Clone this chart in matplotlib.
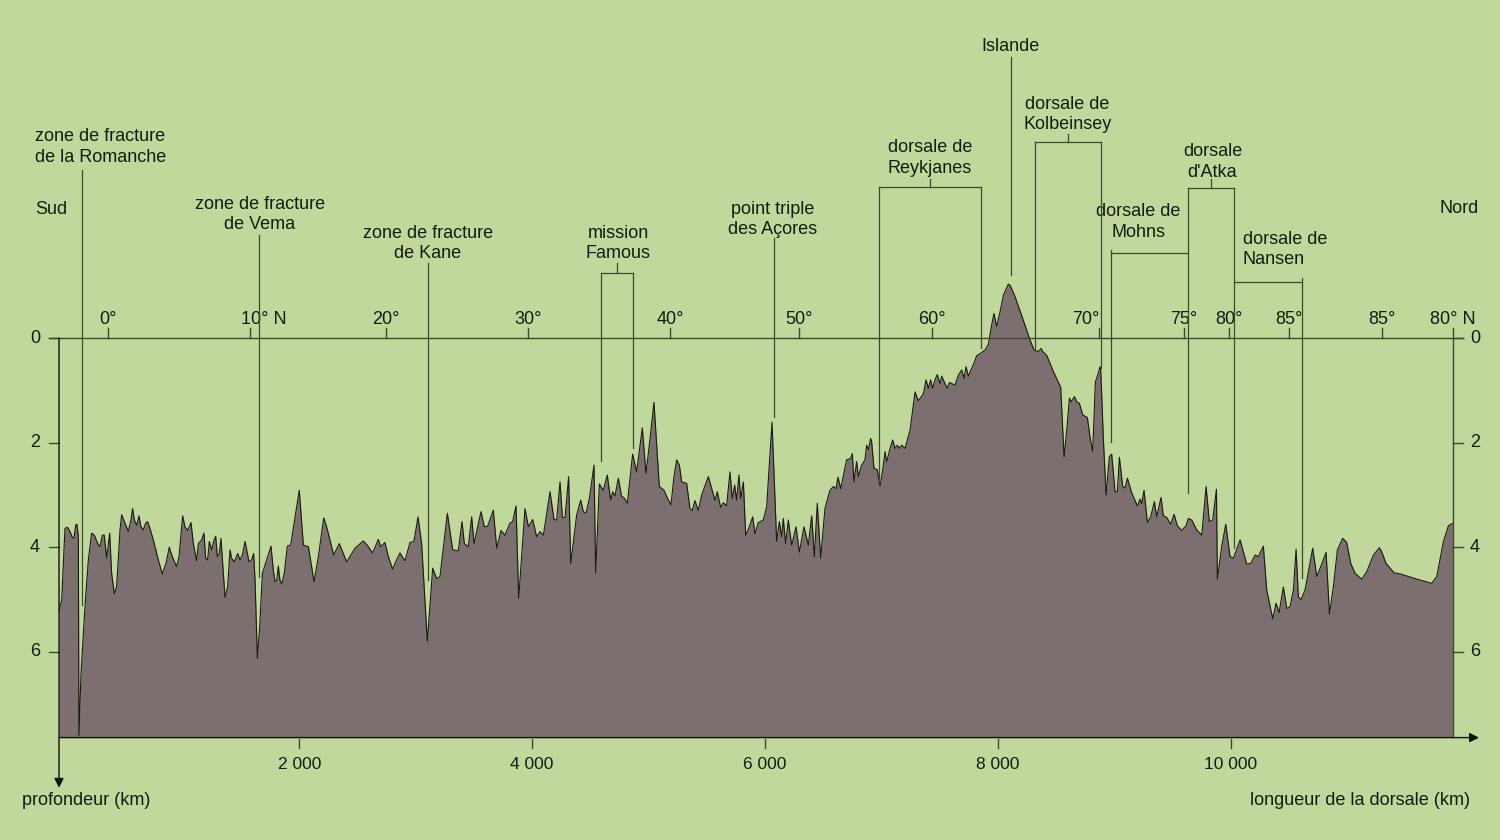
import matplotlib
matplotlib.use('Agg')
import matplotlib.pyplot as plt
import numpy as np

## Profile of the Atlantic ridge: distance along the ridge (km) and depth (km, <0 = above sea level)
dist_km = [-64, -41, -13, 10, 30, 50, 64, 79, 90, 102, 107, 125, 159, 188, 216, 239, 268, 288, 308, 325,
           345, 354, 371, 388, 411, 431, 460, 474, 503, 531, 554, 568, 583, 603, 623, 640, 660, 680, 697, 717,
           746, 789, 823, 855, 883, 909, 946, 967, 998, 1018, 1041, 1070, 1090, 1118, 1133, 1161, 1181, 1196,
           1213, 1227, 1247, 1264, 1282, 1296, 1313, 1327, 1339, 1362, 1385, 1405, 1419, 1442, 1471, 1491,
           1511, 1534, 1548, 1568, 1591, 1608, 1620, 1640, 1660, 1683, 1706, 1734, 1757, 1777, 1791, 1806,
           1820, 1834, 1849, 1871, 1897, 1926, 2000, 2035, 2078, 2127, 2164, 2210, 2235, 2278,
           2295, 2344, 2407, 2478, 2550, 2584, 2630, 2679, 2699, 2736, 2765, 2802, 2828, 2865, 2908, 2951,
           2985, 3020, 3051, 3100, 3146, 3180, 3209, 3272, 3318, 3366, 3398, 3418, 3452, 3481, 3501, 3561,
           3590, 3618, 3667, 3696, 3733, 3767, 3810, 3833, 3862, 3885, 3939, 3968, 4005, 4039, 4068, 4097,
           4154, 4188, 4211, 4240, 4260, 4283, 4314, 4332, 4383, 4418, 4440, 4463, 4492, 4532, 4546, 4578,
           4612, 4646, 4675, 4692, 4712, 4741, 4769, 4789, 4818, 4864, 4898, 4947, 4978, 5007, 5047, 5093,
           5133, 5156, 5193, 5219, 5242, 5265, 5285, 5328, 5356, 5376, 5399, 5428, 5457, 5514, 5571, 5591,
           5620, 5643, 5671, 5700, 5720, 5740, 5757, 5777, 5792, 5815, 5835, 5866, 5895, 5915, 5943, 5986,
           6015, 6061, 6101, 6124, 6144, 6158, 6178, 6201, 6230, 6267, 6296, 6336, 6373, 6402, 6425, 6450,
           6479, 6516, 6559, 6588, 6611, 6628, 6651, 6702, 6737, 6751, 6765, 6788, 6803, 6831, 6860, 6874,
           6889, 6909, 6917, 6937, 6966, 6989, 7012, 7032, 7046, 7075, 7098, 7118, 7138, 7155, 7175, 7204,
           7247, 7290, 7318, 7361, 7384, 7404, 7424, 7441, 7461, 7481, 7504, 7519, 7547, 7567, 7585, 7633,
           7662, 7691, 7710, 7728, 7748, 7776, 7796, 7819, 7854, 7891, 7920, 7948, 7968, 7991, 8020, 8049,
           8091, 8106, 8149, 8220, 8278, 8312, 8349, 8372, 8387, 8421, 8478, 8541, 8570, 8593, 8616, 8630,
           8659, 8679, 8702, 8730, 8770, 8793, 8816, 8839, 8856, 8879, 8885, 8908, 8931, 8959, 8979, 9008,
           9028, 9045, 9074, 9094, 9114, 9151, 9200, 9223, 9237, 9257, 9286, 9314, 9346, 9366, 9403, 9423,
           9452, 9486, 9515, 9543, 9581, 9618, 9638, 9667, 9710, 9753, 9790, 9818, 9847, 9879, 9887, 9924,
           9959, 9996, 10025, 10082, 10139, 10174, 10211, 10239, 10282, 10311, 10363, 10391, 10417, 10454,
           10483, 10511, 10540, 10563, 10583, 10606, 10640, 10706, 10741, 10775, 10821, 10850, 10884, 10918,
           10964, 10998, 11033, 11070, 11127, 11170, 11227, 11279, 11299, 11336, 11405, 11457, 11600, 11729,
           11772, 11829, 11872, 11911]
depth_km = [5.20, 5.01, 3.64, 3.62, 3.70, 3.81, 3.83, 3.58, 3.56, 3.80, 7.60, 6.41, 5.14, 4.24, 3.73, 3.77, 3.93, 3.99, 3.77, 3.77,
            4.21, 4.05, 3.73, 4.50, 4.89, 4.75, 3.67, 3.38, 3.54, 3.70, 3.48, 3.26, 3.48, 3.58, 3.40, 3.61, 3.67, 3.54, 3.51, 3.64,
            3.86, 4.24, 4.51, 4.31, 4.00, 4.18, 4.37, 4.18, 3.40, 3.61, 3.68, 3.53, 3.93, 4.26, 3.93, 3.86, 3.73, 4.21,
            4.24, 3.89, 4.05, 3.89, 3.79, 4.18, 4.12, 3.83, 4.21, 4.96, 4.75, 4.05, 4.21, 4.28, 4.12, 4.24,
            4.15, 3.89, 4.05, 4.28, 4.24, 4.12, 4.63, 6.12, 5.52, 4.50, 4.34, 4.15, 3.98, 4.44, 4.66, 4.63,
            4.36, 4.63, 4.70, 4.50, 3.98, 3.96, 2.91, 3.96, 3.99, 4.66, 4.18, 3.44, 3.61, 3.99,
            4.15, 3.93, 4.28, 4.02, 3.88, 3.96, 4.11, 3.85, 3.99, 3.91, 4.18, 4.42, 4.28, 4.11, 4.26, 3.91,
            3.89, 3.42, 3.93, 5.80, 4.40, 4.60, 4.56, 3.35, 4.05, 4.07, 3.51, 3.93, 3.99, 3.42, 3.93, 3.32,
            3.61, 3.60, 3.29, 4.02, 3.68, 3.77, 3.54, 3.51, 3.21, 4.98, 3.26, 3.61, 3.47, 3.80, 3.70, 3.77,
            2.94, 3.47, 3.48, 2.75, 3.43, 3.43, 2.65, 4.31, 3.38, 3.10, 3.32, 3.35, 3.07, 2.43, 4.49, 2.79,
            2.91, 2.62, 3.10, 2.94, 3.02, 2.68, 3.03, 3.05, 3.16, 2.22, 2.56, 1.72, 2.59, 2.05, 1.23, 2.84,
            2.91, 3.03, 3.19, 2.65, 2.33, 2.43, 2.75, 2.78, 3.26, 3.30, 3.11, 3.30, 3.00, 2.65, 3.10, 2.94,
            3.24, 3.15, 3.21, 2.56, 3.07, 2.81, 3.10, 2.62, 3.07, 2.75, 3.77, 3.61, 3.42, 3.74, 3.53, 3.48,
            3.23, 1.61, 3.89, 3.51, 3.80, 3.45, 3.93, 3.48, 3.96, 3.61, 4.09, 3.61, 3.96, 3.40, 4.18, 3.16,
            4.21, 3.26, 2.91, 2.84, 2.88, 2.66, 2.88, 2.33, 2.30, 2.21, 2.75, 2.36, 2.65, 2.43, 2.33, 2.05,
            2.13, 1.92, 1.98, 2.49, 2.52, 2.83, 2.52, 2.17, 2.37, 2.11, 1.95, 2.11, 2.05, 2.11, 2.05, 2.11,
            1.76, 1.03, 1.20, 1.07, 0.80, 0.96, 0.80, 0.96, 0.80, 0.70, 0.87, 0.73, 0.87, 0.96, 0.85, 0.90,
            0.71, 0.61, 0.77, 0.55, 0.73, 0.58, 0.48, 0.34, 0.29, 0.23, 0.12, -0.25, -0.47, -0.22, -0.50, -0.82,
            -1.03, -1.01, -0.79, -0.34, 0.04, 0.23, 0.26, 0.20, 0.26, 0.33, 0.64, 0.94, 2.27, 1.76, 1.15, 1.22,
            1.12, 1.22, 1.25, 1.47, 1.52, 1.89, 2.17, 0.84, 0.73, 0.55, 0.61, 1.95, 3.00, 2.27, 2.22, 2.94,
            2.94, 2.28, 2.84, 2.87, 2.68, 2.96, 3.21, 3.08, 3.17, 2.91, 3.53, 3.42, 3.13, 3.42, 3.05, 3.40,
            3.43, 3.56, 3.37, 3.59, 3.68, 3.59, 3.45, 3.48, 3.67, 3.77, 2.84, 3.51, 3.48, 2.89, 4.61, 3.99,
            3.56, 4.18, 4.21, 3.86, 4.32, 4.31, 4.15, 4.18, 3.98, 4.82, 5.37, 5.07, 5.25, 4.76,
            5.17, 5.14, 4.82, 4.04, 4.95, 5.00, 4.82, 4.02, 4.56, 4.37, 4.10, 5.28, 4.75, 4.05,
            3.83, 3.91, 4.31, 4.50, 4.61, 4.47, 4.15, 4.01, 4.09, 4.31, 4.49, 4.51, 4.61, 4.69,
            4.56, 3.89, 3.59, 3.54]

## latitude marks along the ridge (km) and their labels
lat_km = [359, 1579, 2742, 3965, 5185, 6293, 7433, 8870, 9598, 9983, 10506, 11305, 11911]
lat_labels = ['0°', '10° N', '20°', '30°', '40°', '50°', '60°', '70°', '75°', '80°', '85°', '85°', '80° N']

km_ticks = [2000, 4000, 6000, 8000, 10000]
depth_ticks = [0, 2, 4, 6]

BG = '#c0d89b'
FILL = '#7b6f70'
INK = '#151c0e'
LINE = '#3a4a2a'
FS = 13
LS = 1.27
plt.rcParams['font.family'] = ['Liberation Sans', 'DejaVu Sans']

fig = plt.figure(figsize=(15, 8.4), dpi=100)
fig.patch.set_facecolor(BG)
ax = fig.add_axes([0, 0, 1, 1])
ax.set_facecolor(BG)
ax.set_xlim(-571, 12315)
ax.set_ylim(9.598, -6.463)
ax.axis('off')

x0, x1, base = -64, 11911, 7.63

# profile
ax.fill_between(dist_km, depth_km, base, color=FILL, lw=0, zorder=2)
ax.plot(dist_km, depth_km, color='#1a1a12', lw=0.8, zorder=3)

# axes frame
ax.plot([-150, x1 + 86], [0, 0], color=LINE, lw=1.0, zorder=4)
ax.plot([x1, x1], [0, base], color=LINE, lw=1.0, zorder=4)
ax.annotate('', xy=(x0, 8.6), xytext=(x0, 0), zorder=4,
            arrowprops=dict(arrowstyle='-|>', color='#111', lw=1.0, mutation_scale=14, shrinkA=0, shrinkB=0))
ax.annotate('', xy=(12135, base + 0.01), xytext=(x0, base + 0.01), zorder=4,
            arrowprops=dict(arrowstyle='-|>', color='#111', lw=1.0, mutation_scale=14, shrinkA=0, shrinkB=0))

for d in depth_ticks:
    ax.plot([-150, x0], [d, d], color=LINE, lw=1.0)
    ax.plot([x1, x1 + 86], [d, d], color=LINE, lw=1.0)
    ax.text(-271, d, str(d), ha='center', va='center', fontsize=FS, color=INK)
    ax.text(12100, d, str(d), ha='center', va='center', fontsize=FS, color=INK)

for k in km_ticks:
    ax.plot([k, k], [7.66, 7.84], color=LINE, lw=1.0)
    ax.text(k, 8.15, '{:,}'.format(k).replace(',', ' '), ha='center', va='center', fontsize=FS - 0.5, color=INK)

lab_shift = {'10° N': 14, '70°': -13}
for k, lab in zip(lat_km, lat_labels):
    ax.plot([k, k], [-0.19, 0], color=LINE, lw=1.0)
    ax.annotate(lab, (k, -0.36), xytext=(lab_shift.get(lab, 0), 0), textcoords='offset pixels',
                ha='center', va='center', fontsize=FS, color=INK)

ax.text(-382, 8.85, 'profondeur (km)', ha='left', va='center', fontsize=FS, color=INK)
ax.text(12060, 8.85, 'longueur de la dorsale (km)', ha='right', va='center', fontsize=FS, color=INK)
ax.text(-271, -2.45, 'Sud', ha='left', va='center', fontsize=FS, color=INK)
ax.text(12135, -2.47, 'Nord', ha='right', va='center', fontsize=FS, color=INK)

def vline(k, top, bottom):
    ax.plot([k, k], [top, bottom], color=LINE, lw=0.9, zorder=5)

def hline(k0, k1, d):
    ax.plot([k0, k1], [d, d], color=LINE, lw=0.9, zorder=5)

def label(k, d, txt, ha='center'):
    ax.text(k, d, txt, ha=ha, va='center', multialignment='center', fontsize=FS, color=INK,
            linespacing=LS)

# single features
label(-271, -3.65, 'zone de fracture\nde la Romanche', ha='left')
vline(136, -3.21, 5.11)
label(1662, -2.36, 'zone de fracture\nde Vema')
vline(1654, -1.97, 4.57)
label(3106, -1.81, 'zone de fracture\nde Kane')
vline(3108, -1.43, 4.63)
label(6070, -2.27, 'point triple\ndes Açores')
vline(6075, -1.91, 1.51)
label(8114, -5.58, 'Islande')
vline(8114, -5.37, -1.20)

# bracketed segments
label(4738, -1.81, 'mission\nFamous')
vline(4729, -1.43, -1.24)
hline(4592, 4867, -1.24)
vline(4592, -1.24, 2.35)
vline(4867, -1.24, 2.10)

label(7418, -3.44, 'dorsale de\nReykjanes')
vline(7418, -3.04, -2.89)
hline(6980, 7857, -2.89)
vline(6980, -2.89, 2.75)
vline(7857, -2.89, 0.19)

label(8600, -4.27, 'dorsale de\nKolbeinsey')
vline(8604, -3.90, -3.75)
hline(8320, 8887, -3.75)
vline(8320, -3.75, 0.23)
vline(8887, -3.75, 0.57)

label(9210, -2.22, 'dorsale de\nMohns')
hline(8973, 9634, -1.63)
vline(8973, -1.68, 1.99)

label(9845, -3.37, 'dorsale\nd\'Atka')
vline(9832, -3.04, -2.87)
hline(9634, 10030, -2.87)
vline(9634, -2.87, 2.96)
vline(10030, -2.87, 4.02)

ax.text(10107, -1.69, 'dorsale de\nNansen', ha='left', va='center', fontsize=FS, color=INK, linespacing=LS)
hline(10030, 10614, -1.07)
vline(10614, -1.15, 4.59)

fig.savefig('out.png', dpi=100, facecolor=BG)
